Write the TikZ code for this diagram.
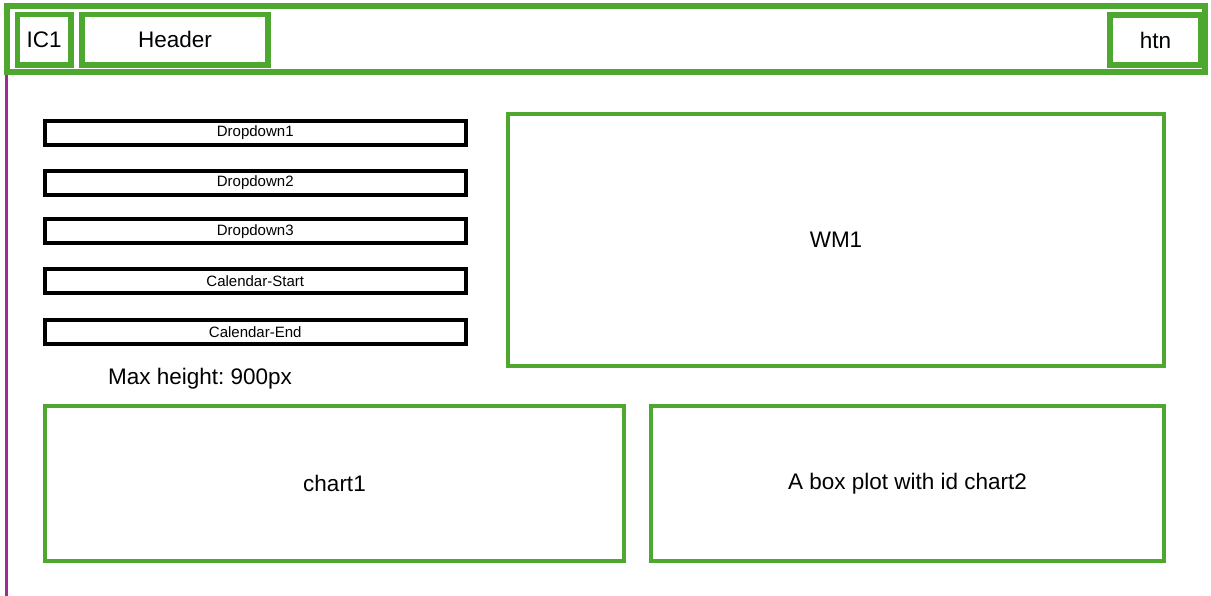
\documentclass[tikz,border=0pt]{standalone}
\usepackage{fontspec}
\setmainfont{Liberation Sans}
\frenchspacing
\definecolor{boxgreen}{RGB}{78,167,46}
\definecolor{rulepurple}{RGB}{160,43,147}
\begin{document}
\begin{tikzpicture}[y=1pt,x=1pt,yscale=-1, inner sep=0pt, outer sep=0pt,
  greenbox/.style={draw=boxgreen,line join=miter,line width=3.6pt,rectangle,
    font=\fontsize{22.5}{27}\selectfont},
  headbox/.style={greenbox,line width=5.5pt},
  dropbox/.style={draw=black,line join=miter,line width=4pt,rectangle,
    minimum width=420.5pt,minimum height=24pt,font=\fontsize{15}{18}\selectfont}]
\useasboundingbox (0,0) rectangle (1211,596);

\node[headbox,minimum width=1198pt,minimum height=66pt] (frame) at (606,39) {};
\node[headbox,minimum width=53.5pt,minimum height=50.5pt] (ic1) at (44.25,39.75) {IC1};
\node[headbox,minimum width=186pt,minimum height=50.5pt] (header) at (175,39.75) {Header};
\node[headbox,minimum width=91pt,minimum height=50pt] (htn) at (1155.5,40) {htn};

\coordinate (ruletop) at (6.5,75);
\coordinate (rulebot) at (6.5,596);
\draw[draw=rulepurple,line cap=butt,line width=3.4pt] (ruletop) -- (rulebot);

\node[dropbox] (drop1) at (255.25,133) {Dropdown1};
\node[dropbox] (drop2) at (255.25,182.75) {Dropdown2};
\node[dropbox] (drop3) at (255.25,231.5) {Dropdown3};
\node[dropbox] (calstart) at (255.25,281) {Calendar-Start};
\node[dropbox] (calend) at (255.25,332) {Calendar-End};

\node[font=\fontsize{22.5}{27}\selectfont] (maxh) at (200,379) {Max height: 900px};

\node[greenbox,minimum width=656pt,minimum height=252pt] (wm1) at (836,240) {WM1};
\node[greenbox,minimum width=579pt,minimum height=155pt] (chart1) at (334.5,483.5) {chart1};
\node[greenbox,minimum width=513pt,minimum height=155pt] (chart2) at (907.5,483.5) {A box plot with id chart2};
\end{tikzpicture}
\end{document}
